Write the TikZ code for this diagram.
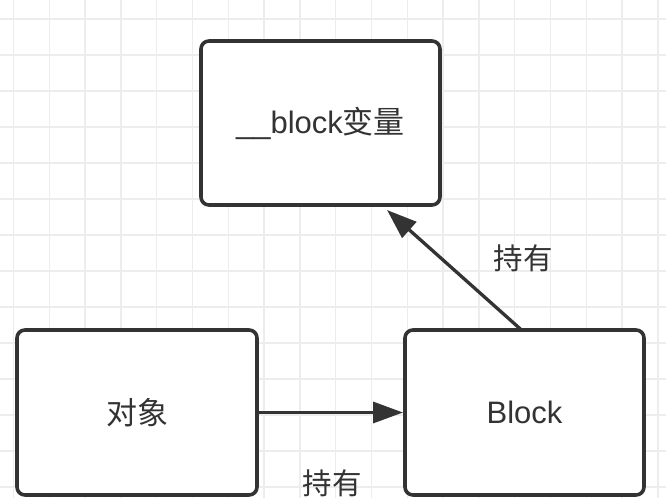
\documentclass[tikz,border=0pt]{standalone}
\usepackage{fontspec}
\setmainfont{Liberation Sans}
\newfontfamily\cjk{Noto Sans CJK SC}
\usetikzlibrary{arrows.meta}
\definecolor{ink}{HTML}{333333}
\definecolor{gridc}{HTML}{EDEDED}
\tikzset{
  box/.style={draw=ink, line width=3.6pt, rounded corners=8pt, fill=white,
    minimum width=239pt, minimum height=164pt, inner sep=0pt, outer sep=0pt,
    text=ink, font=\fontsize{31}{36}\selectfont},
  arr/.style={draw=ink, line width=3.3pt, -{Triangle[length=30pt,width=21pt]}},
  lbl/.style={text=ink, inner sep=0pt, font=\cjk\fontsize{29.5}{34}\selectfont}
}
\begin{document}
\begin{tikzpicture}[x=1pt,y=-1pt]
\useasboundingbox (0,0) rectangle (666,498);
\fill[white] (0,0) rectangle (666,498);
\foreach \i in {0,...,18} \draw[gridc, line width=1.3pt] ({13.5+35.8*\i},0) -- ({13.5+35.8*\i},498);
\foreach \j in {0,...,13} \draw[gridc, line width=1.3pt] (0,{19+36*\j}) -- (666,{19+36*\j});
\node[box] (var) at (320.5,123) {\raisebox{-3pt}{\_\_block{\cjk 变量}}};
\node[box, minimum width=240pt, minimum height=165pt] (obj) at (137,412.5) {{\cjk 对象}};
\node[box, minimum height=165pt] (blk) at (524.5,412.5) {Block};
\draw[arr] (obj.east) -- ([xshift=-2pt]blk.west);
\draw[arr] ([xshift=-3pt]blk.north) -- ([xshift=66.5pt,yshift=-5pt]var.south);
\node[lbl] (l1) at (523,258) {持有};
\node[lbl] (l2) at (332,483) {持有};
\end{tikzpicture}
\end{document}
